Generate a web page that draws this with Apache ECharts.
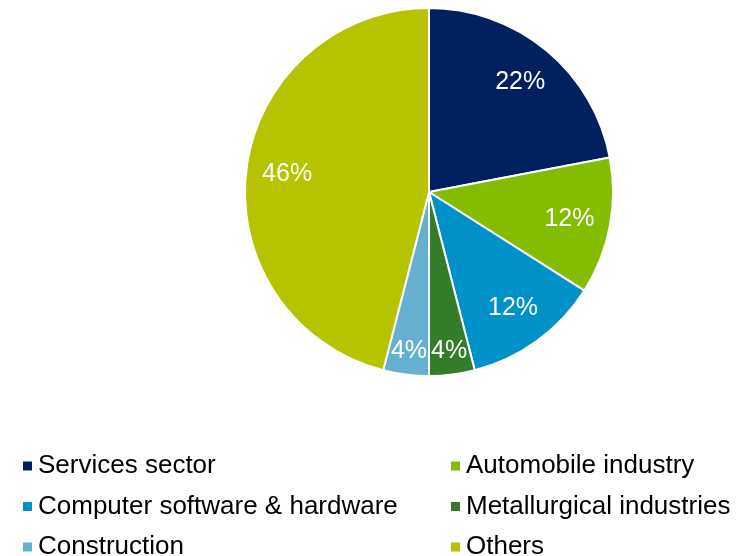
<!DOCTYPE html>
<html>
<head>
<meta charset="utf-8">
<script src="https://cdn.jsdelivr.net/npm/echarts@6/dist/echarts.min.js"></script>
<style>
  html, body { margin: 0; padding: 0; background: #fff; }
  #chart { width: 743px; height: 556px; }
</style>
</head>
<body>
<div id="chart"></div>
<script>
// Sector shares, in percent
const sectors = [
  'Services sector',
  'Automobile industry',
  'Computer software & hardware',
  'Metallurgical industries',
  'Construction',
  'Others'
];
const shares = [22, 12, 12, 4, 4, 46];
const sectorColors = ['#002060', '#84BC00', '#0091C8', '#357C2A', '#65B0CF', '#B5C300'];

const legendLeft = ['Services sector', 'Computer software & hardware', 'Construction'];
const legendRight = ['Automobile industry', 'Metallurgical industries', 'Others'];

// thin slices get their label nearer the rim
const SMALL_SHARE = 8;

const pieData = sectors.map((name, i) => ({
  name: name,
  value: shares[i],
  itemStyle: { color: sectorColors[i] }
}));

const center = [429, 192];
const font = '"Liberation Sans", Arial, sans-serif';

const legendBase = {
  orient: 'vertical',
  top: 448,
  height: 110,
  itemWidth: 11,
  itemHeight: 11,
  itemGap: 14.5,
  icon: 'rect',
  textStyle: { fontFamily: font, fontSize: 26, color: '#000', lineHeight: 26 },
  selectedMode: false
};

// transparent ring whose mid-radius carries the percentage labels
function labelRing(innerRadius, showFor) {
  return {
    type: 'pie',
    center: center,
    radius: [innerRadius, 184],
    startAngle: 90,
    clockwise: true,
    silent: true,
    data: pieData.map(d => ({
      name: d.name,
      value: d.value,
      itemStyle: { color: 'rgba(0,0,0,0)' },
      label: { show: showFor(d.value) }
    })),
    itemStyle: { borderWidth: 0 },
    label: {
      position: 'inside',
      formatter: '{c}%',
      color: '#fff',
      fontFamily: font,
      fontSize: 25
    },
    labelLine: { show: false },
    labelLayout: { hideOverlap: false }
  };
}

const chart = echarts.init(document.getElementById('chart'), null, { renderer: 'canvas' });
chart.setOption({
  animation: false,
  color: sectorColors,
  legend: [
    Object.assign({}, legendBase, { left: 16, data: legendLeft }),
    Object.assign({}, legendBase, { left: 444, data: legendRight })
  ],
  series: [
    {
      type: 'pie',
      center: center,
      radius: [0, 184],
      startAngle: 90,
      clockwise: true,
      silent: true,
      data: pieData,
      itemStyle: { borderColor: '#fff', borderWidth: 2 },
      label: { show: false },
      labelLine: { show: false }
    },
    labelRing(96, v => v >= SMALL_SHARE),
    labelRing(130, v => v < SMALL_SHARE)
  ]
});
</script>
</body>
</html>
